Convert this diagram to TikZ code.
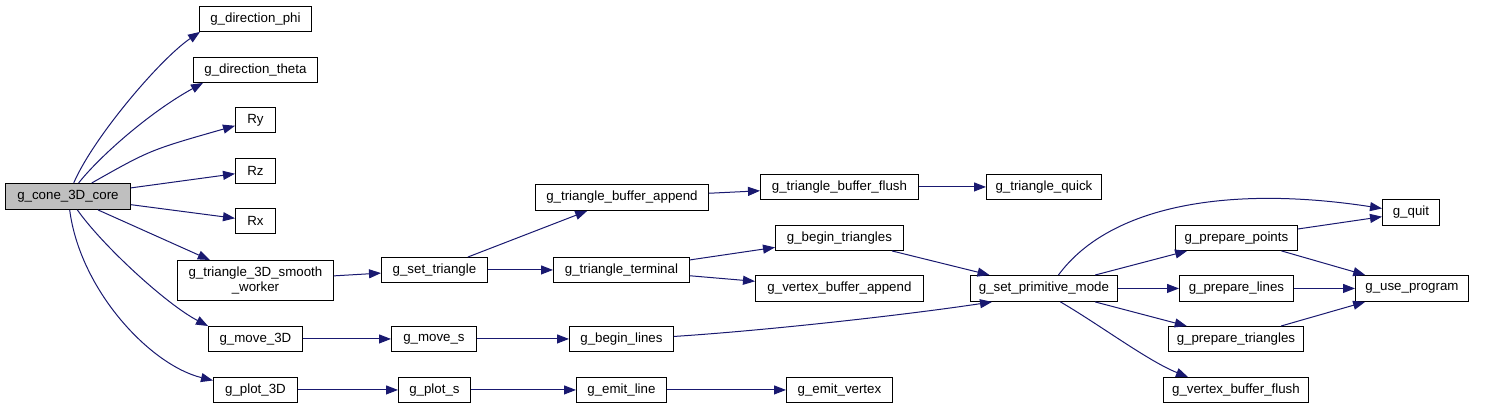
\documentclass[tikz,border=0pt]{standalone}
\usepackage{fontspec}
\setmainfont{Liberation Sans}
\usetikzlibrary{arrows.meta}
\definecolor{edgeblue}{RGB}{25,25,112}
\definecolor{rootgray}{RGB}{191,191,191}

\begin{document}
\begin{tikzpicture}[x=1pt, y=-1pt, >={Triangle[length=12pt,width=9pt]},
  fn/.style={draw=black, line width=0.9pt, anchor=north west, inner sep=0pt,
    minimum height=25, font=\fontsize{13.3}{15}\selectfont},
  call/.style={->, color=edgeblue, line width=1pt}]
  \fill[white] (0,0) rectangle (1491,408);
  % root and its callees
  \node[fn, fill=rootgray, minimum width=125, minimum height=26] (cone) at (5,183) {g\_cone\_3D\_core};
  \node[fn, minimum width=112] (phi) at (199,6) {g\_direction\_phi};
  \node[fn, minimum width=124] (theta) at (193,57) {g\_direction\_theta};
  \node[fn, minimum width=40] (ry) at (235,107) {Ry};
  \node[fn, minimum width=40] (rz) at (235,158) {Rz};
  \node[fn, minimum width=40] (rx) at (235,208) {Rx};
  \node[fn, minimum width=156, minimum height=40, align=center] (worker) at (177,260) {g\_triangle\_3D\_smooth\\\_worker};
  \node[fn, minimum width=94] (move3d) at (208,326) {g\_move\_3D};
  \node[fn, minimum width=84] (plot3d) at (213,377) {g\_plot\_3D};
  % second level
  \node[fn, minimum width=106] (settri) at (381,257) {g\_set\_triangle};
  \node[fn, minimum width=85] (moves) at (391,326) {g\_move\_s};
  \node[fn, minimum width=72] (plots) at (398,377) {g\_plot\_s};
  \node[fn, minimum width=173, minimum height=26] (tba) at (535,184) {g\_triangle\_buffer\_append};
  \node[fn, minimum width=136] (term) at (553,257) {g\_triangle\_terminal};
  \node[fn, minimum width=104] (beglines) at (569,326) {g\_begin\_lines};
  \node[fn, minimum width=90] (emitline) at (576,377) {g\_emit\_line};
  \node[fn, minimum width=158] (tbf) at (760,174) {g\_triangle\_buffer\_flush};
  \node[fn, minimum width=128] (begtri) at (775,225) {g\_begin\_triangles};
  \node[fn, minimum width=168, minimum height=26] (vba) at (755,275) {g\_vertex\_buffer\_append};
  \node[fn, minimum width=106] (emitvert) at (786,377) {g\_emit\_vertex};
  \node[fn, minimum width=115] (quick) at (986,174) {g\_triangle\_quick};
  % primitive mode block
  \node[fn, minimum width=147, minimum height=26] (spm) at (970,275) {g\_set\_primitive\_mode};
  \node[fn, minimum width=122] (prepts) at (1175,225) {g\_prepare\_points};
  \node[fn, minimum width=114, minimum height=26] (prelines) at (1179,275) {g\_prepare\_lines};
  \node[fn, minimum width=135] (pretri) at (1168,326) {g\_prepare\_triangles};
  \node[fn, minimum width=145] (vbf) at (1163,377) {g\_vertex\_buffer\_flush};
  \node[fn, minimum width=57, minimum height=26] (quit) at (1382,199) {g\_quit};
  \node[fn, minimum width=113, minimum height=26] (useprog) at (1355,275) {g\_use\_program};

  % curved calls
  \draw[call] (cone) .. controls (93,138) and (160,59) .. ([xshift=1]phi.south west);
  \draw[call] (cone) .. controls (100,156) and (150,112) .. ([xshift=10]theta.south west);
  \draw[call] (cone) .. controls (150,150) .. (ry);
  \draw[call] (cone) .. controls (102,245) and (166,304) .. (move3d.north west);
  \draw[call] (cone) .. controls (80,290) and (150,365) .. ([yshift=9.5]plot3d.west);
  \draw[call] ([yshift=2.5]beglines.east) .. controls (773,330) and (912,314) .. ([xshift=22]spm.south west);
  \draw[call] ([xshift=14.5]spm.north) .. controls (1110,205) and (1230,185) .. ([yshift=4]quit.west);
  \draw[call] ([xshift=16.5]spm.south) .. controls (1100,325) and (1148,361) .. ([xshift=25]vbf.north west);
  % straight calls
  \foreach \a/\b in {cone/rz, cone/rx, cone/worker, worker/settri, settri/tba, settri/term,
    tba/tbf, tbf/quick, term/begtri, term/vba, begtri/spm, move3d/moves, moves/beglines,
    plot3d/plots, plots/emitline, emitline/emitvert, spm/prepts, spm/prelines, spm/pretri,
    prepts/quit, prepts/useprog, prelines/useprog, pretri/useprog}
    \draw[call] (\a) -- (\b);
\end{tikzpicture}
\end{document}
